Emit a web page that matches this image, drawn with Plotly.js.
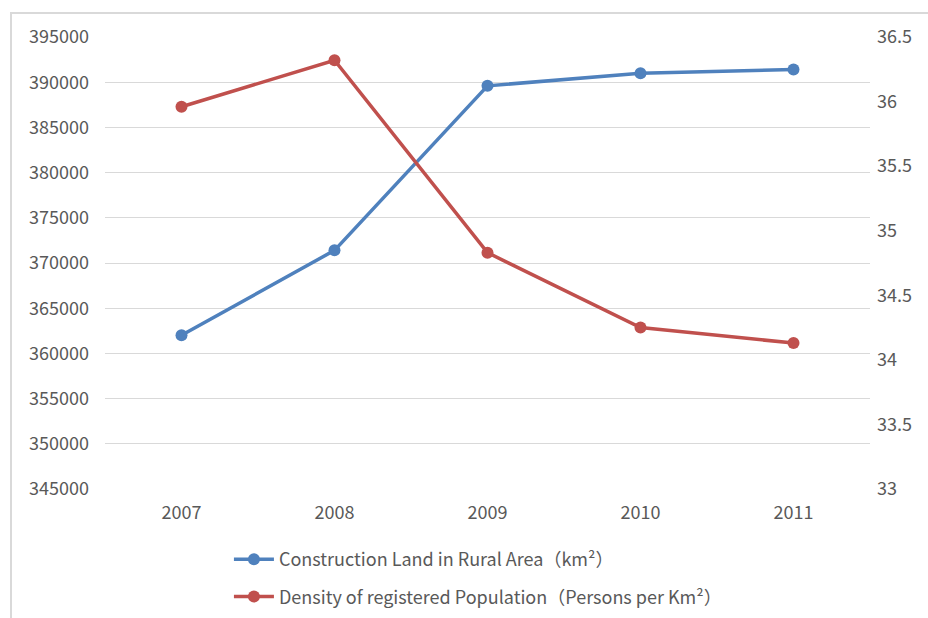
<!DOCTYPE html>
<html>
<head>
<meta charset="utf-8">
<script src="https://cdn.plot.ly/plotly-3.0.1.min.js"></script>
<style>
  html, body { margin: 0; padding: 0; background: #ffffff; }
  #wrap { position: relative; width: 928px; height: 618px; overflow: hidden; }
  #chart { position: absolute; left: 0; top: 0; width: 928px; height: 618px; }
  #frame { position: absolute; left: 10px; top: 12px; width: 940px; height: 640px;
           border-left: 2px solid #d9d9d9; border-top: 2px solid #d9d9d9; pointer-events: none; }
</style>
</head>
<body>
<div id="wrap">
  <div id="chart"></div>
  <div id="frame"></div>
</div>
<script>
// Years on the category axis
const years = ['2007', '2008', '2009', '2010', '2011'];
// Construction land in rural area, km²
const ruralLand = [362000, 371400, 389600, 391000, 391400];
// Density of registered population, persons per km²
const popDensity = [35.96, 36.32, 34.83, 34.25, 34.13];

const blue = '#4f81bd';
const red = '#c0504d';
const fontFamily = '"Noto Sans CJK SC", "Open Sans", sans-serif';
const textGrey = '#595959';

const traces = [
  {
    x: years, y: ruralLand, type: 'scatter', mode: 'lines+markers',
    name: 'Construction Land in Rural Area（km²）',
    line: { color: blue, width: 3.5 },
    marker: { color: blue, size: 12 },
    legendgroup: 'a',
    yaxis: 'y'
  },
  {
    x: years, y: popDensity, type: 'scatter', mode: 'lines+markers',
    name: 'Density of registered Population（Persons per Km²）',
    line: { color: red, width: 3.5 },
    marker: { color: red, size: 12 },
    legendgroup: 'b',
    yaxis: 'y2'
  }
];

const layout = {
  width: 928, height: 618,
  margin: { l: 105, r: 58, t: 37, b: 129, autoexpand: false },
  paper_bgcolor: '#ffffff',
  plot_bgcolor: '#ffffff',
  font: { family: fontFamily, size: 18, color: textGrey },
  showlegend: true,
  legend: {
    orientation: 'v',
    x: 0.162, y: -0.115, xanchor: 'left', yanchor: 'top',
    font: { family: fontFamily, size: 18, color: textGrey },
    itemwidth: 40,
    tracegroupgap: 11,
    bgcolor: 'rgba(0,0,0,0)'
  },
  xaxis: {
    type: 'category',
    range: [-0.5, 4.5],
    showgrid: false, zeroline: false, showline: false,
    ticks: '', ticklabelstandoff: 11,
    tickfont: { family: fontFamily, size: 18, color: textGrey }
  },
  yaxis: {
    range: [345000, 395000],
    dtick: 5000, tick0: 345000,
    tickformat: 'd',
    showgrid: true, gridcolor: '#d9d9d9', gridwidth: 1,
    zeroline: false, showline: false,
    ticks: '', ticklabelstandoff: 15,
    tickfont: { family: fontFamily, size: 18, color: textGrey }
  },
  yaxis2: {
    overlaying: 'y', side: 'right',
    range: [33, 36.5],
    dtick: 0.5, tick0: 33,
    showgrid: false, zeroline: false, showline: false,
    ticks: '', ticklabelstandoff: 6,
    tickfont: { family: fontFamily, size: 18, color: textGrey }
  }
};

Plotly.newPlot('chart', traces, layout, { displayModeBar: false, staticPlot: true });
</script>
</body>
</html>
